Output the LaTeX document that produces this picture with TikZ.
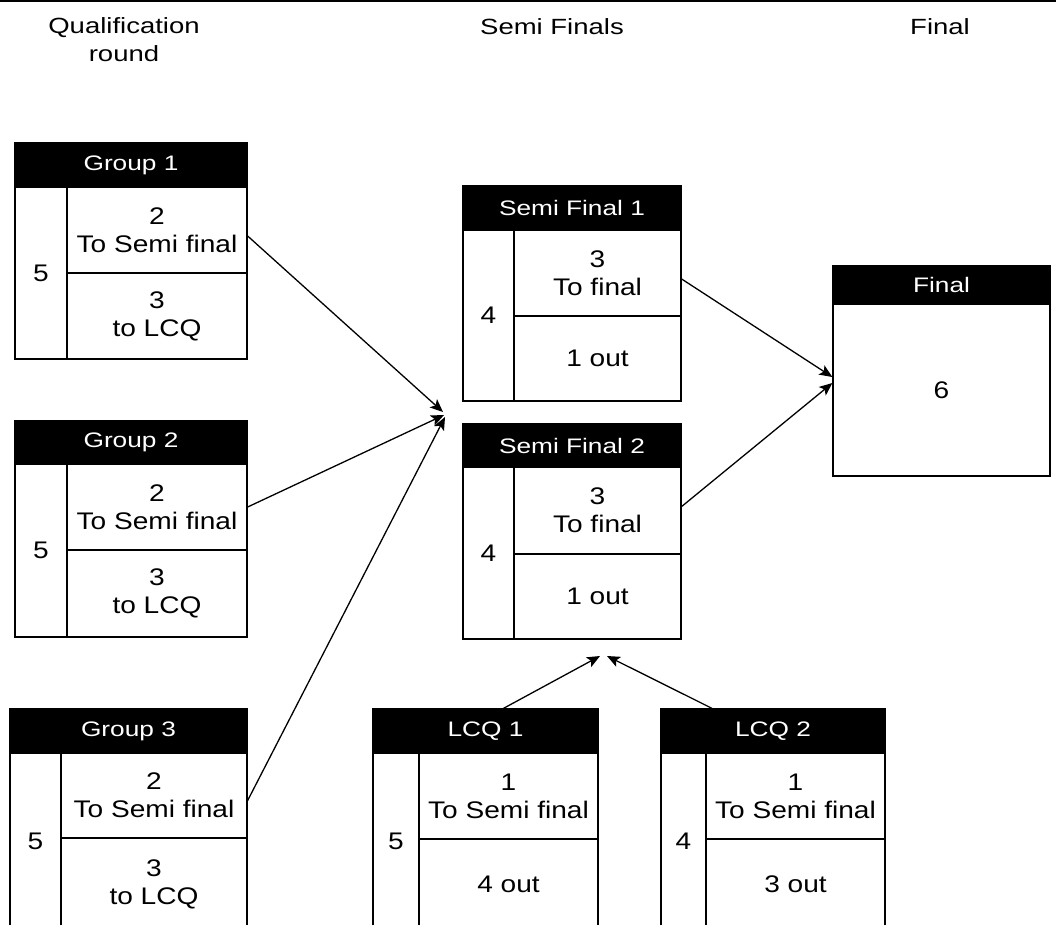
\documentclass[tikz,border=0pt]{standalone}
\usepackage{fontspec}
\setmainfont{Liberation Sans}[FakeStretch=1.25]
\newfontfamily\bodyfont{Liberation Sans}[FakeStretch=1.17]
\usetikzlibrary{arrows.meta}
\newcommand\cellat[7]{%
  \node[#1, minimum width={#5-#3}, minimum height={#6-#4}] (#2) at ({(#3+#5)/2},{(#4+#6)/2}) {#7};}
\begin{document}
\begin{tikzpicture}[x=1pt,y=-1pt,
  box/.style={draw=black, line width=1.3pt, inner sep=0pt, fill=white, align=center, font=\bodyfont\fontsize{24}{28}\selectfont},
  hdr/.style={box, fill=black, text=white, font=\fontsize{21}{25}\selectfont},
  link/.style={line width=1.3pt, -{Stealth[length=13pt,width=11pt,inset=3pt]}},
  title/.style={align=center, font=\fontsize{22}{28}\selectfont}]
\useasboundingbox (0,0) rectangle (1056,924);
\draw[line width=2pt] (0,1) -- (1056,1);
% column titles
\node[title] (tq) at (124,40) {Qualification\\round};
\node[title] (ts) at (552,27) {Semi Finals};
\node[title] (tf) at (940,27) {Final};
% Group 1
\cellat{hdr}{g1h}{15}{143}{247}{187}{Group 1}
\cellat{box}{g1n}{15}{187}{67}{359}{5}
\cellat{box}{g1u}{67}{187}{247}{273}{2\\To Semi final}
\cellat{box}{g1l}{67}{273}{247}{359}{3\\to LCQ}
% Group 2
\cellat{hdr}{g2h}{15}{421}{247}{464}{Group 2}
\cellat{box}{g2n}{15}{464}{67}{637}{5}
\cellat{box}{g2u}{67}{464}{247}{550}{2\\To Semi final}
\cellat{box}{g2l}{67}{550}{247}{637}{3\\to LCQ}
% Group 3
\cellat{hdr}{g3h}{10}{709}{247}{753}{Group 3}
\cellat{box}{g3n}{10}{753}{61}{930}{5}
\cellat{box}{g3u}{61}{753}{247}{838}{2\\To Semi final}
\cellat{box}{g3l}{61}{838}{247}{930}{3\\to LCQ}
% Semi Final 1
\cellat{hdr}{s1h}{463}{186}{681}{230}{Semi Final 1}
\cellat{box}{s1n}{463}{230}{514}{401}{4}
\cellat{box}{s1u}{514}{230}{681}{316}{3\\To final}
\cellat{box}{s1l}{514}{316}{681}{401}{1 out}
% Semi Final 2
\cellat{hdr}{s2h}{463}{424}{681}{467}{Semi Final 2}
\cellat{box}{s2n}{463}{467}{514}{639}{4}
\cellat{box}{s2u}{514}{467}{681}{554}{3\\To final}
\cellat{box}{s2l}{514}{554}{681}{639}{1 out}
% Final
\cellat{hdr}{fh}{833}{266}{1050}{304}{Final}
\cellat{box}{fb}{833}{304}{1050}{476}{6}
% LCQ 1
\cellat{hdr}{l1h}{373}{709}{598}{753}{LCQ 1}
\cellat{box}{l1n}{373}{753}{419}{930}{5}
\cellat{box}{l1u}{419}{753}{598}{839}{1\\To Semi final}
\cellat{box}{l1l}{419}{839}{598}{930}{4 out}
% LCQ 2
\cellat{hdr}{l2h}{661}{709}{885}{753}{LCQ 2}
\cellat{box}{l2n}{661}{753}{706}{930}{4}
\cellat{box}{l2u}{706}{753}{885}{839}{1\\To Semi final}
\cellat{box}{l2l}{706}{839}{885}{930}{3 out}
% meeting points
\coordinate (m1) at (443,412);
\coordinate (m2) at (444,415);
\coordinate (m3) at (445,417);
\coordinate (m4) at (600,656);
\coordinate (m5) at (607,656);
% connectors
\draw[link] ([yshift=-6pt]g1u.east) -- (m1);
\draw[link] (g2u.east) -- (m2);
\draw[link] ([yshift=-5pt]g3u.east) -- (m3);
\draw[link] ([yshift=-6pt]s1u.east) -- ([yshift=13pt]fb.west);
\draw[link] ([yshift=4pt]s2u.east) -- ([yshift=7pt]fb.west);
\draw[link] ([xshift=18pt]l1h.north) -- (m4);
\draw[link] ([xshift=-61pt]l2h.north) -- (m5);
\end{tikzpicture}
\end{document}
